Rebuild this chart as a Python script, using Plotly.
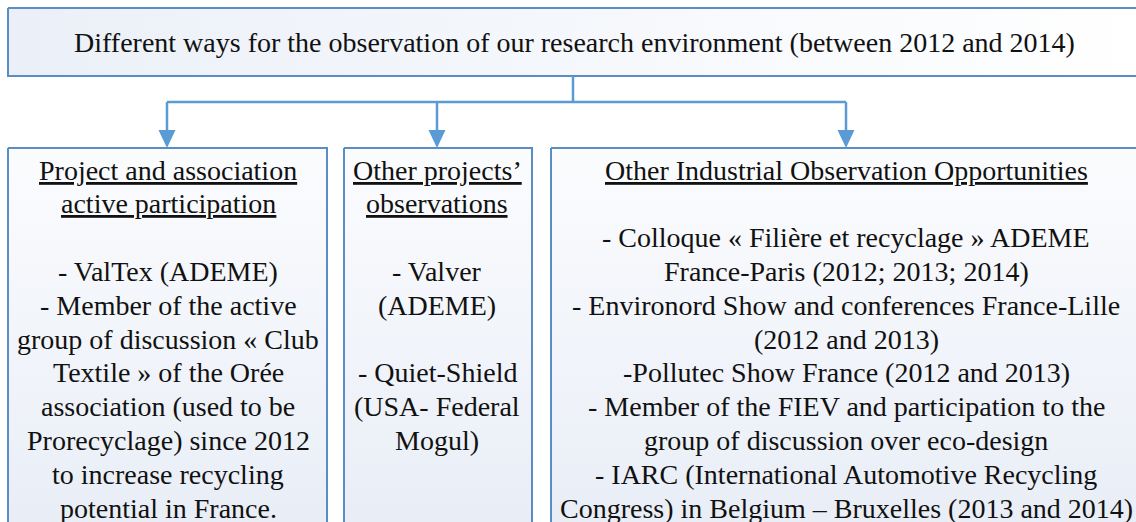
import plotly.graph_objects as go

# ---- content ----
TITLE = "Different ways for the observation of our research environment (between 2012 and 2014)"

COL1_LINES = ["<u>Project and association</u>", "<u>active participation</u>", "",
              "- ValTex (ADEME)", "- Member of the active", "group of discussion « Club",
              "Textile » of the Orée", "association (used to be",
              "Prorecyclage) since 2012", "to increase recycling", "potential in France."]
COL2_LINES = ["<u>Other projects’</u>", "<u>observations</u>", "",
              "- Valver", "(ADEME)", "", "- Quiet-Shield", "(USA- Federal", "Mogul)"]
COL3_LINES = ["<u>Other Industrial Observation Opportunities</u>", "",
              "- Colloque « Filière et recyclage » ADEME", "France-Paris (2012; 2013; 2014)",
              "- Environord Show and conferences France-Lille", "(2012 and 2013)",
              "-Pollutec Show France (2012 and 2013)",
              "- Member of the FIEV and participation to the",
              "group of discussion over eco-design",
              "- IARC (International Automotive Recycling",
              "Congress) in Belgium – Bruxelles (2013 and 2014)"]

# ---- layout geometry (pixels) ----
W, H = 1136, 522
TOP_BOX = (8, 8, 1150, 76)
BOXES = [(8, 148, 327, 540), (344, 148, 532, 540), (551, 148, 1150, 540)]
BUS_Y = 102
TRUNK_X = 573
ARROW_XS = [167, 437, 846]
FIRST_LINE_Y = 170
LINE_STEP = 33.8
TEXT_CX = [168, 437, 846]

BORDER = "#5A8CC5"
CONN = "#5B9BD5"
FONT = dict(family="Liberation Serif", size=28, color="#111111")

fig = go.Figure()

def box(x0, y0, x1, y1, grad_type, c0, c1):
    fig.add_trace(go.Scatter(
        x=[x0, x1, x1, x0, x0], y=[y0, y0, y1, y1, y0], mode="lines",
        fill="toself", line=dict(color=BORDER, width=2),
        fillgradient=dict(type=grad_type, colorscale=[[0, c0], [1, c1]]),
        hoverinfo="skip", showlegend=False))

box(*TOP_BOX, "horizontal", "#EBF0F8", "#FFFFFF")
for b in BOXES:
    box(*b, "vertical", "#E8EDF6", "#FBFCFE")

# connectors
shapes = []
shapes.append(dict(type="line", x0=TRUNK_X, x1=TRUNK_X, y0=TOP_BOX[3], y1=BUS_Y,
                   line=dict(color=CONN, width=2.5)))
shapes.append(dict(type="line", x0=min(ARROW_XS), x1=max(ARROW_XS), y0=BUS_Y, y1=BUS_Y,
                   line=dict(color=CONN, width=2.5)))
for ax in ARROW_XS:
    shapes.append(dict(type="line", x0=ax, x1=ax, y0=BUS_Y, y1=132,
                       line=dict(color=CONN, width=2.5)))
    shapes.append(dict(type="path", path=f"M {ax-8.5},130 L {ax+8.5},130 L {ax},148 Z",
                       fillcolor=CONN, line=dict(color=CONN, width=0)))

annotations = [dict(x=574, y=42, text=TITLE, showarrow=False, font=FONT,
                    xanchor="center", yanchor="middle")]
for cx, lines in zip(TEXT_CX, [COL1_LINES, COL2_LINES, COL3_LINES]):
    for i, t in enumerate(lines):
        if not t:
            continue
        annotations.append(dict(x=cx, y=FIRST_LINE_Y + i * LINE_STEP, text=t,
                                showarrow=False, font=FONT,
                                xanchor="center", yanchor="middle"))

fig.update_layout(
    width=W, height=H, margin=dict(l=0, r=0, t=0, b=0),
    paper_bgcolor="white", plot_bgcolor="white",
    xaxis=dict(range=[0, W], visible=False, fixedrange=True),
    yaxis=dict(range=[H, 0], visible=False, fixedrange=True),
    shapes=shapes, annotations=annotations, showlegend=False,
)

fig.write_html("out.html", config={"displayModeBar": False},
               post_script="document.body.style.margin='0';")
